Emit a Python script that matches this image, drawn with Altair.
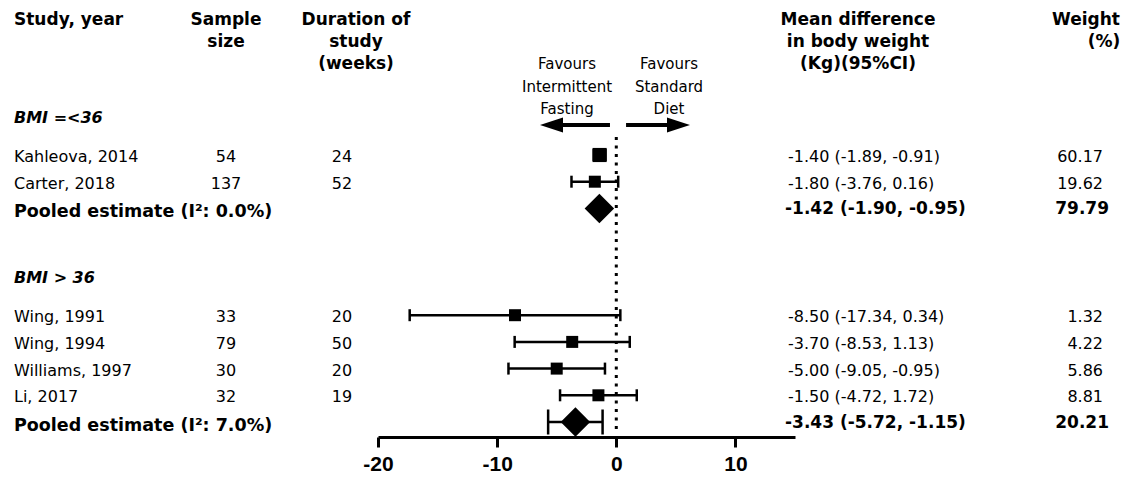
import math
import altair as alt
import pandas as pd

# ---------------- data ----------------
group_names = ["BMI =<36", "BMI > 36"]
study_group = [0, 0, 1, 1, 1, 1]
studies = ["Kahleova, 2014", "Carter, 2018", "Wing, 1991", "Wing, 1994", "Williams, 1997", "Li, 2017"]
sample_size = [54, 137, 33, 79, 30, 32]
duration_weeks = [24, 52, 20, 50, 20, 19]
mean_diff = [-1.40, -1.80, -8.50, -3.70, -5.00, -1.50]
ci_low = [-1.89, -3.76, -17.34, -8.53, -9.05, -4.72]
ci_high = [-0.91, 0.16, 0.34, 1.13, -0.95, 1.72]
weights = [60.17, 19.62, 1.32, 4.22, 5.86, 8.81]

pooled_labels = ["Pooled estimate  (I\u00b2: 0.0%)", "Pooled estimate (I\u00b2: 7.0%)"]
pooled_mean = [-1.42, -3.43]
pooled_low = [-1.90, -5.72]
pooled_high = [-0.95, -1.15]
pooled_weight = [79.79, 20.21]

x_ticks = [-20, -10, 0, 10]
x_domain = [-20, 15]

header_study = ["Study, year"]
header_n = ["Sample", "size"]
header_dur = ["Duration of", "study", "(weeks)"]
header_md = ["Mean difference", "in body weight", "(Kg)(95%CI)"]
header_w1 = ["Weight"]
header_w2 = ["(%)"]
favours_left = ["Favours", "Intermittent", "Fasting"]
favours_right = ["Favours", "Standard", "Diet"]

# annotation arrows (in data units of the x scale)
arrow_shafts = [(-0.53, -4.6), (0.82, 4.5)]
arrow_heads = [-5.44, 5.22]

# ---------------- layout ----------------
FONT = "DejaVu Sans"
TICKFONT = "Liberation Sans"
X_RANGE = [378, 795]
Y_RANGE = [155, 422]

study_rows, pooled_rows, group_rows = [], [], []
slot = 0
for g, gname in enumerate(group_names):
    group_rows.append({"slot": slot - 1.38, "label": gname})
    for i, sg in enumerate(study_group):
        if sg != g:
            continue
        study_rows.append({
            "slot": slot, "label": studies[i], "n": str(sample_size[i]),
            "dur": str(duration_weeks[i]), "md": mean_diff[i], "lo": ci_low[i],
            "hi": ci_high[i], "w": weights[i],
            "ci_txt": f"{mean_diff[i]:.2f} ({ci_low[i]:.2f}, {ci_high[i]:.2f})",
            "w_txt": f"{weights[i]:.2f}",
        })
        slot += 1
    pooled_rows.append({
        "slot": slot, "label": pooled_labels[g], "md": pooled_mean[g],
        "lo": pooled_low[g], "hi": pooled_high[g],
        "ci_txt": f"{pooled_mean[g]:.2f} ({pooled_low[g]:.2f}, {pooled_high[g]:.2f})",
        "w_txt": f"{pooled_weight[g]:.2f}",
    })
    slot += 4

study_df = pd.DataFrame(study_rows)
pooled_df = pd.DataFrame(pooled_rows)
group_df = pd.DataFrame(group_rows)

DIAMOND_SIZE = 870
units_per_px = (x_domain[1] - x_domain[0]) / (X_RANGE[1] - X_RANGE[0])
half_diamond = math.sqrt(DIAMOND_SIZE) / 2 * units_per_px
pooled_ci_df = pooled_df[(pooled_df["md"] - pooled_df["lo"]) > half_diamond]

xs = alt.Scale(domain=x_domain, range=X_RANGE, nice=False, zero=False)
ys = alt.Scale(domain=[0, 10], range=Y_RANGE, nice=False, zero=False)
xaxis = alt.Axis(values=x_ticks, title=None, grid=False, labelFont=TICKFONT,
                 labelFontSize=21, labelFontWeight="bold", labelColor="black",
                 labelPadding=6, labelFlush=False, tickSize=10, tickWidth=3,
                 tickColor="black", domainWidth=3, domainColor="black",
                 labelExpr="'' + datum.value")


def X(field):
    return alt.X(f"{field}:Q", scale=xs, axis=xaxis)


Y = alt.Y("slot:Q", scale=ys, axis=None)
one = pd.DataFrame({"x": [0]})

# zero reference line
zero = alt.Chart(one).mark_rule(strokeDash=[3, 5.5], strokeWidth=3, color="black").encode(
    x=X("x"), y=alt.value(137), y2=alt.value(432))

# study CI
ci = alt.Chart(study_df).mark_rule(strokeWidth=2.5, color="black").encode(
    x=X("lo"), x2="hi:Q", y=Y)
caps = alt.Chart(study_df).transform_fold(["lo", "hi"], as_=["end", "xv"]).mark_tick(
    orient="vertical", size=12, thickness=2.5, color="black", opacity=1).encode(
    x=X("xv"), y=Y)
squares = alt.Chart(study_df).mark_square(color="black", opacity=1).encode(
    x=X("md"), y=Y,
    size=alt.Size("w:Q", scale=alt.Scale(type="threshold", domain=[50], range=[144, 200]), legend=None))

# pooled
pci = alt.Chart(pooled_ci_df).mark_rule(strokeWidth=2.5, color="black").encode(
    x=X("lo"), x2="hi:Q", y=Y)
pcaps = alt.Chart(pooled_ci_df).transform_fold(["lo", "hi"], as_=["end", "xv"]).mark_tick(
    orient="vertical", size=25, thickness=2.5, color="black", opacity=1).encode(
    x=X("xv"), y=Y)
diamonds = alt.Chart(pooled_df).mark_point(shape="diamond", filled=True, size=DIAMOND_SIZE,
                                           color="black", opacity=1).encode(x=X("md"), y=Y)

# arrows
shaft_df = pd.DataFrame({"a": [s[0] for s in arrow_shafts], "b": [s[1] for s in arrow_shafts]})
shafts = alt.Chart(shaft_df).mark_rule(strokeWidth=4, color="black").encode(
    x=X("a"), x2="b:Q", y=alt.value(125))
head_l = alt.Chart(pd.DataFrame({"x": [arrow_heads[0]]})).mark_point(
    shape="M -1 0 L 1 -0.66 L 1 0.66 Z", filled=True, size=529, color="black", opacity=1).encode(
    x=X("x"), y=alt.value(125))
head_r = alt.Chart(pd.DataFrame({"x": [arrow_heads[1]]})).mark_point(
    shape="M 1 0 L -1 -0.66 L -1 0.66 Z", filled=True, size=529, color="black", opacity=1).encode(
    x=X("x"), y=alt.value(125))

# row texts
def row_text(df, field, xpx, align, bold=False, size=16, dy=0):
    return alt.Chart(df).mark_text(
        align=align, baseline="middle", font=FONT, fontSize=size,
        fontWeight="bold" if bold else "normal", color="black", dy=dy).encode(
        x=alt.value(xpx), y=Y, text=f"{field}:N")


t_label = row_text(study_df, "label", 14, "left", dy=2)
t_n = row_text(study_df, "n", 226, "center", dy=2)
t_dur = row_text(study_df, "dur", 342, "center", dy=2)
t_ci = row_text(study_df, "ci_txt", 788, "left", dy=2)
t_w = row_text(study_df, "w_txt", 1103, "right", dy=2)
p_label = row_text(pooled_df, "label", 14, "left", bold=True, size=17.5, dy=4)
p_ci = row_text(pooled_df, "ci_txt", 785, "left", bold=True, size=17, dy=1)
p_w = row_text(pooled_df, "w_txt", 1109, "right", bold=True, size=17, dy=1)
g_label = alt.Chart(group_df).mark_text(
    align="left", baseline="middle", font=FONT, fontSize=16, fontWeight="bold",
    fontStyle="italic", color="black").encode(x=alt.value(14), y=Y, text="label:N")

# headers
def header(lines, xpx, align="center", size=17, bold=True, y=25, lh=22):
    return alt.Chart(one).mark_text(
        text=lines, align=align, baseline="alphabetic", font=FONT, fontSize=size,
        fontWeight="bold" if bold else "normal", color="black", lineHeight=lh).encode(
        x=alt.value(xpx), y=alt.value(y))


h1 = header(header_study, 14, align="left")
h2 = header(header_n, 226)
h3 = header(header_dur, 356)
h4 = header(header_md, 858)
h5 = header(header_w1, 1086)
h6 = header(header_w2, 1104, y=47)
f1 = header(favours_left, 567, size=15, bold=False, y=69, lh=22.5)
f2 = header(favours_right, 669, size=15, bold=False, y=69, lh=22.5)

chart = alt.layer(
    zero, ci, caps, squares, pci, pcaps, diamonds, shafts, head_l, head_r,
    t_label, t_n, t_dur, t_ci, t_w, p_label, p_ci, p_w, g_label,
    h1, h2, h3, h4, h5, h6, f1, f2,
).properties(
    width=1132, height=437,
    autosize=alt.AutoSizeParams(type="none"),
    padding={"left": 0, "top": 0, "right": 0, "bottom": 42},
    background="white",
).configure_view(strokeOpacity=0)

chart.save("out.html", embed_options={"renderer": "svg", "actions": False})
